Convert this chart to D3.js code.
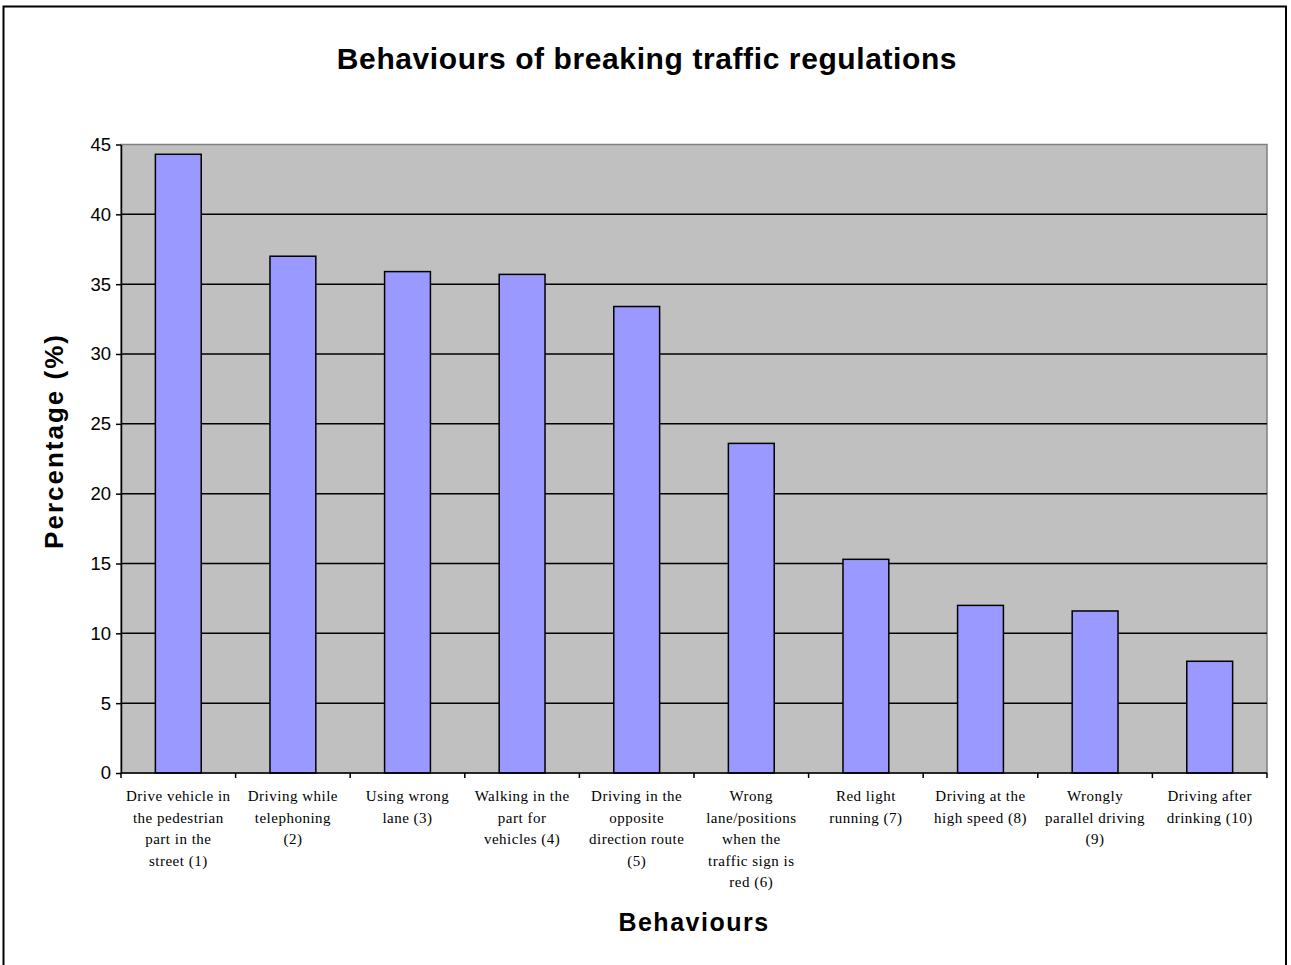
<!DOCTYPE html>
<html>
<head>
<meta charset="utf-8">
<script src="https://cdn.jsdelivr.net/npm/d3@7"></script>
<style>
  html, body { margin: 0; padding: 0; background: #ffffff; }
  svg { display: block; }
</style>
</head>
<body>
<svg id="chart" width="1291" height="965"></svg>
<script>
// Behaviours and the share of respondents reporting each one (%)
const categories = [
  ["Drive vehicle in", "the pedestrian", "part in the", "street (1)"],
  ["Driving while", "telephoning", "(2)"],
  ["Using wrong", "lane (3)"],
  ["Walking in the", "part for", "vehicles (4)"],
  ["Driving in the", "opposite", "direction route", "(5)"],
  ["Wrong", "lane/positions", "when the", "traffic sign is", "red (6)"],
  ["Red light", "running (7)"],
  ["Driving at the", "high speed (8)"],
  ["Wrongly", "parallel driving", "(9)"],
  ["Driving after", "drinking (10)"]
];
const values = [44.3, 37.0, 35.9, 35.7, 33.4, 23.6, 15.3, 12.0, 11.6, 8.0];
const yTicks = [0, 5, 10, 15, 20, 25, 30, 35, 40, 45];

const titleText = "Behaviours of breaking traffic regulations";
const xTitle = "Behaviours";
const yTitle = "Percentage (%)";

const svg = d3.select("#chart");
const plot = { left: 121, right: 1267, top: 144.5, bottom: 773 };

// Outer chart frame
svg.append("rect")
  .attr("x", 3.5).attr("y", 6.5)
  .attr("width", 1282.5).attr("height", 975)
  .attr("fill", "#ffffff")
  .attr("stroke", "#000000")
  .attr("stroke-width", 2);

const ids = categories.map((_, i) => i);
const x = d3.scaleBand()
  .domain(ids)
  .range([plot.left, plot.right])
  .paddingInner(0.6)
  .paddingOuter(0.3);
const xCat = d3.scaleBand().domain(ids).range([plot.left, plot.right]);
const y = d3.scaleLinear().domain([0, 45]).range([plot.bottom, plot.top]);

// Plot area background
svg.append("rect")
  .attr("x", plot.left).attr("y", plot.top)
  .attr("width", plot.right - plot.left)
  .attr("height", plot.bottom - plot.top)
  .attr("fill", "#c0c0c0")
  .attr("stroke", "#808080")
  .attr("stroke-width", 1.5);

// Horizontal gridlines
svg.append("g")
  .selectAll("line")
  .data(yTicks.filter(t => t > 0 && t < 45))
  .join("line")
  .attr("x1", plot.left).attr("x2", plot.right)
  .attr("y1", d => y(d)).attr("y2", d => y(d))
  .attr("stroke", "#000000")
  .attr("stroke-width", 1.5);

// Bars
svg.append("g")
  .selectAll("rect")
  .data(values)
  .join("rect")
  .attr("x", (d, i) => x(i))
  .attr("y", d => y(d))
  .attr("width", x.bandwidth())
  .attr("height", d => y(0) - y(d))
  .attr("fill", "#9999ff")
  .attr("stroke", "#000000")
  .attr("stroke-width", 1.5);

// Y axis
const yAxis = svg.append("g")
  .attr("transform", `translate(${plot.left},0)`)
  .call(d3.axisLeft(y).tickValues(yTicks).tickSize(5).tickPadding(5).tickSizeOuter(0));
yAxis.select(".domain").attr("stroke", "#000").attr("stroke-width", 1.5);
yAxis.selectAll(".tick line").attr("stroke", "#000").attr("stroke-width", 1.5);
yAxis.selectAll(".tick text")
  .attr("font-family", "Liberation Sans, Arial, sans-serif")
  .attr("font-size", 18.5)
  .attr("fill", "#000");

// X axis: ticks at category boundaries
const xAxisG = svg.append("g");
xAxisG.append("line")
  .attr("x1", plot.left).attr("x2", plot.right)
  .attr("y1", plot.bottom).attr("y2", plot.bottom)
  .attr("stroke", "#000").attr("stroke-width", 1.5);
xAxisG.selectAll("line.tick")
  .data(ids.concat([ids.length]))
  .join("line")
  .attr("class", "tick")
  .attr("x1", d => d < ids.length ? xCat(d) : plot.right)
  .attr("x2", d => d < ids.length ? xCat(d) : plot.right)
  .attr("y1", plot.bottom).attr("y2", plot.bottom + 5)
  .attr("stroke", "#000").attr("stroke-width", 1.5);

// Category labels
const labels = svg.append("g")
  .attr("font-family", "Liberation Serif, Times New Roman, serif")
  .attr("font-size", 15)
  .attr("fill", "#000")
  .attr("text-anchor", "middle");
labels.selectAll("text")
  .data(categories)
  .join("text")
  .attr("transform", (d, i) => `translate(${xCat(i) + xCat.bandwidth() / 2},801)`)
  .selectAll("tspan")
  .data(d => d)
  .join("tspan")
  .attr("x", 0)
  .attr("y", (d, j) => j * 21.6)
  .attr("letter-spacing", 0.5)
  .text(d => d);

// Titles
svg.append("text")
  .attr("x", 647).attr("y", 69)
  .attr("text-anchor", "middle")
  .attr("font-family", "Liberation Sans, Arial, sans-serif")
  .attr("font-weight", "bold")
  .attr("font-size", 30)
  .attr("letter-spacing", 0.6)
  .text(titleText);

svg.append("text")
  .attr("x", 694).attr("y", 931)
  .attr("text-anchor", "middle")
  .attr("font-family", "Liberation Sans, Arial, sans-serif")
  .attr("font-weight", "bold")
  .attr("font-size", 25)
  .attr("letter-spacing", 1.5)
  .text(xTitle);

svg.append("text")
  .attr("transform", "translate(63,441) rotate(-90)")
  .attr("text-anchor", "middle")
  .attr("font-family", "Liberation Sans, Arial, sans-serif")
  .attr("font-weight", "bold")
  .attr("font-size", 26)
  .attr("letter-spacing", 2)
  .text(yTitle);
</script>
</body>
</html>
